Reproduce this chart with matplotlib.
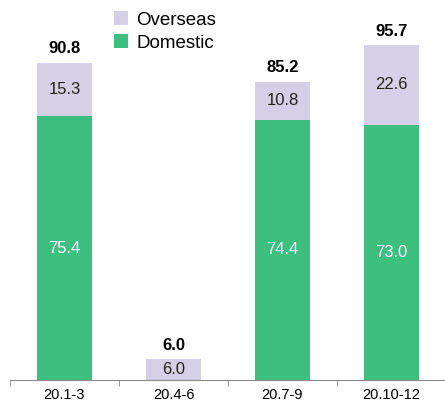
import numpy as np
import matplotlib.pyplot as plt

plt.rcParams['font.family'] = ['Liberation Sans', 'DejaVu Sans']

# dados
periodos = ['20.1-3', '20.4-6', '20.7-9', '20.10-12']
domestico = [75.4, 0.0, 74.4, 73.0]
exterior = [15.3, 6.0, 10.8, 22.6]
totais = [90.8, 6.0, 85.2, 95.7]

cor_dom = '#3dbf80'
cor_ext = '#d5d0e5'

fig = plt.figure(figsize=(4.45, 4.01), dpi=100)
ax = fig.add_axes([10 / 445, 21 / 401, 436 / 445, 380 / 401])

x = np.arange(len(periodos))
b_dom = ax.bar(x, domestico, width=0.5, color=cor_dom, label='Domestic')
b_ext = ax.bar(x, exterior, width=0.5, bottom=domestico, color=cor_ext, label='Overseas')

# rótulos dentro das barras
for i in range(len(periodos)):
    if domestico[i] > 0:
        ax.text(x[i], domestico[i] / 2, f'{domestico[i]:.1f}', ha='center', va='center',
                color='white', fontsize=12)
    ax.text(x[i], domestico[i] + exterior[i] / 2, f'{exterior[i]:.1f}', ha='center', va='center',
            color='#222222', fontsize=12)
    ax.text(x[i], totais[i] + 1.8, f'{totais[i]:.1f}', ha='center', va='bottom',
            color='black', fontsize=12, fontweight='bold')

ax.set_xlim(-0.5, 3.5)
ax.set_ylim(0, 380 / 3.5)
ax.set_yticks([])
ax.set_xticks(x)
ax.set_xticklabels(periodos, fontsize=10.5)
ax.tick_params(axis='x', length=0, pad=6)
ax.set_xticks(np.arange(-0.5, 4.0, 1.0), minor=True)
ax.tick_params(axis='x', which='minor', length=4, color='#888888')
for lado in ['top', 'right', 'left']:
    ax.spines[lado].set_visible(False)
ax.spines['bottom'].set_color('#888888')

ax.legend(handles=[b_ext, b_dom], loc='upper left', bbox_to_anchor=(0.2, 1.015),
          frameon=False, fontsize=13.5, handlelength=0.75, handleheight=0.75,
          handletextpad=0.45, labelspacing=0.3)

fig.savefig('out.png', dpi=100)
